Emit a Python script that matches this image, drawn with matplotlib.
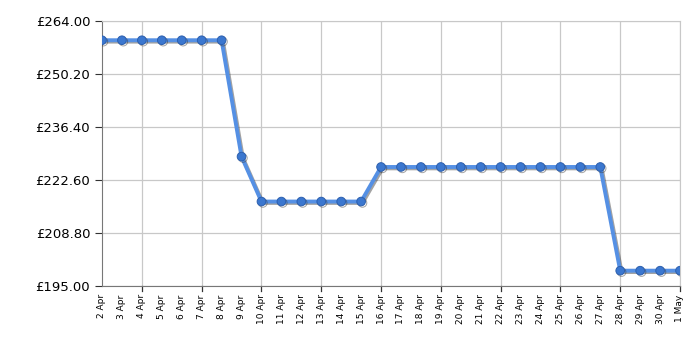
import numpy as np
import matplotlib.pyplot as plt
import matplotlib.patheffects as pe

# Price history data
dates = ['2 Apr', '3 Apr', '4 Apr', '5 Apr', '6 Apr', '7 Apr', '8 Apr', '9 Apr',
         '10 Apr', '11 Apr', '12 Apr', '13 Apr', '14 Apr', '15 Apr', '16 Apr',
         '17 Apr', '18 Apr', '19 Apr', '20 Apr', '21 Apr', '22 Apr', '23 Apr',
         '24 Apr', '25 Apr', '26 Apr', '27 Apr', '28 Apr', '29 Apr', '30 Apr', '1 May']
prices = [258.99] * 7 + [228.69] + [216.99] * 6 + [225.99] * 12 + [198.99] * 4

y_ticks = [195.00, 208.80, 222.60, 236.40, 250.20, 264.00]
grid_dates = ['4 Apr', '7 Apr', '10 Apr', '13 Apr', '16 Apr', '19 Apr',
              '22 Apr', '25 Apr', '28 Apr', '1 May']

fig = plt.figure(figsize=(7, 3.5), dpi=100)
ax = fig.add_axes([102 / 700, 64 / 350, 578 / 700, 265 / 350])

x = np.arange(len(dates))
shadow = [pe.SimpleLineShadow(offset=(1, -1), shadow_color='#333333', alpha=0.45), pe.Normal()]
ax.plot(x, prices, color='#5590e4', lw=2.8, zorder=3, path_effects=shadow)
ax.plot(x, prices, ls='none', marker='o', ms=6.2, mfc='#3b77cf', mec='#2c5fae', mew=0.7,
        zorder=4, path_effects=shadow)

ax.set_xlim(0, len(dates) - 1)
ax.set_ylim(195, 264)
ax.set_yticks(y_ticks)
ax.set_yticklabels(['£%.2f' % v for v in y_ticks], fontsize=9.5)
ax.set_xticks(x)
ax.set_xticklabels(dates, rotation=90, fontsize=6.5)
ax.tick_params(axis='x', length=0, pad=6)
ax.tick_params(axis='y', length=5, color='#333333')

# vertical grid lines and major tick marks
for d in grid_dates:
    i = dates.index(d)
    ax.axvline(i, color='#c8c8c8', lw=0.9, zorder=1)
    ax.plot([i, i], [0, -0.02], color='#333333', lw=0.9, transform=ax.get_xaxis_transform(),
            clip_on=False)
for v in y_ticks:
    ax.axhline(v, color='#c8c8c8', lw=0.9, zorder=1)

for s in ['left', 'bottom']:
    ax.spines[s].set_color('#777777')
for s in ['top', 'right']:
    ax.spines[s].set_color('#c8c8c8')

fig.savefig('out.png', dpi=100)
